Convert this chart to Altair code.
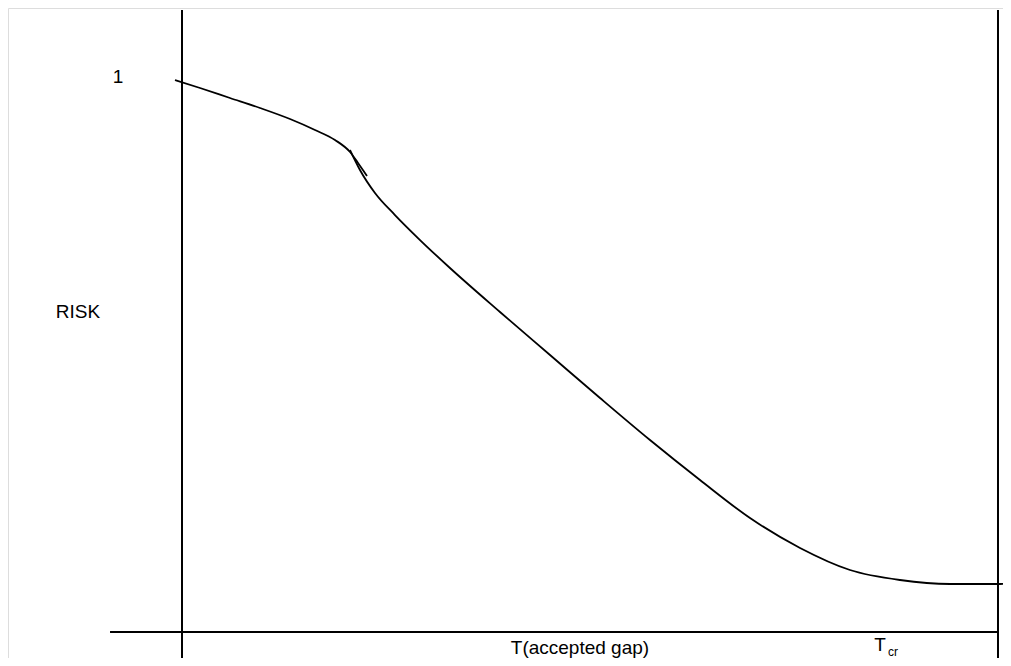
import altair as alt
import pandas as pd

# Curve 1 (upper segment) : T (fraction of T_cr) vs RISK
seg1_t = [-0.0086, 0.0221, 0.0588, 0.0956, 0.1324, 0.1630, 0.1875, 0.2059, 0.2157, 0.2267]
seg1_r = [1.000, 0.9855, 0.9674, 0.9493, 0.9293, 0.9094, 0.8913, 0.8696, 0.8496, 0.8261]

# Curve 2 (lower segment)
seg2_t = [0.2059, 0.2181, 0.2365, 0.2610, 0.2917, 0.3284, 0.3897, 0.4510, 0.5123,
          0.5735, 0.6348, 0.6961, 0.7574, 0.8186, 0.8799, 0.9412, 1.0025, 1.0147]
seg2_r = [0.8732, 0.8370, 0.7953, 0.7554, 0.7101, 0.6594, 0.5797, 0.5018, 0.4239,
          0.3478, 0.2754, 0.2065, 0.1522, 0.1123, 0.0942, 0.0870, 0.0870, 0.0888]

# Frame lines
vert_t = [0.0, 1.0]
vert_top = [1.1268, 1.1268]
vert_bottom = [-0.0562, -0.0562]
horiz_t = [-0.0882, 1.0]
horiz_r = [0.0, 0.0]

# Annotations
ann_text = ["1", "RISK", "T(accepted gap)", "T"]
ann_t = [-0.0784, -0.1275, 0.4877, 0.8554]
ann_r = [1.0054, 0.5797, -0.0290, -0.0236]
sub_text = ["cr"]
sub_t = [0.8713]
sub_r = [-0.0362]

XDOM = [-0.21324, 1.00613]
YDOM = [-0.04710, 1.13043]
xs = alt.Scale(domain=XDOM, nice=False, zero=False)
ys = alt.Scale(domain=YDOM, nice=False, zero=False)
FONT = "Liberation Sans"

df1 = pd.DataFrame({"t": seg1_t, "r": seg1_r, "o": range(len(seg1_t))})
df2 = pd.DataFrame({"t": seg2_t, "r": seg2_r, "o": range(len(seg2_t))})
dv = pd.DataFrame({"t": vert_t, "top": vert_top, "bot": vert_bottom})
dh = pd.DataFrame({"t": horiz_t, "r": horiz_r, "o": [0, 1]})
da = pd.DataFrame({"label": ann_text, "t": ann_t, "r": ann_r})
ds = pd.DataFrame({"label": sub_text, "t": sub_t, "r": sub_r})

def curve(df):
    return alt.Chart(df).mark_line(color="black", strokeWidth=1.8, interpolate="monotone").encode(
        x=alt.X("t:Q", scale=xs, axis=None),
        y=alt.Y("r:Q", scale=ys, axis=None),
        order="o:Q",
    )

c1 = curve(df1)
c2 = curve(df2)
hline = alt.Chart(dh).mark_line(color="black", strokeWidth=2).encode(
    x=alt.X("t:Q", scale=xs, axis=None),
    y=alt.Y("r:Q", scale=ys, axis=None),
    order="o:Q",
)
vlines = alt.Chart(dv).mark_rule(color="black", strokeWidth=2).encode(
    x=alt.X("t:Q", scale=xs, axis=None),
    y=alt.Y("top:Q", scale=ys, axis=None),
    y2="bot:Q",
)
texts = alt.Chart(da).mark_text(font=FONT, fontSize=19, color="black", align="center", baseline="middle").encode(
    x=alt.X("t:Q", scale=xs, axis=None),
    y=alt.Y("r:Q", scale=ys, axis=None),
    text="label:N",
)
subs = alt.Chart(ds).mark_text(font=FONT, fontSize=12, color="black", align="center", baseline="middle").encode(
    x=alt.X("t:Q", scale=xs, axis=None),
    y=alt.Y("r:Q", scale=ys, axis=None),
    text="label:N",
)

chart = alt.layer(vlines, hline, c1, c2, texts, subs).properties(
    width=995, height=650,
    autosize=alt.AutoSizeParams(type="none"),
    padding=0,
).configure_view(stroke=None).configure(background="white")

chart.save("out.html", embed_options={"renderer": "svg", "actions": False})
